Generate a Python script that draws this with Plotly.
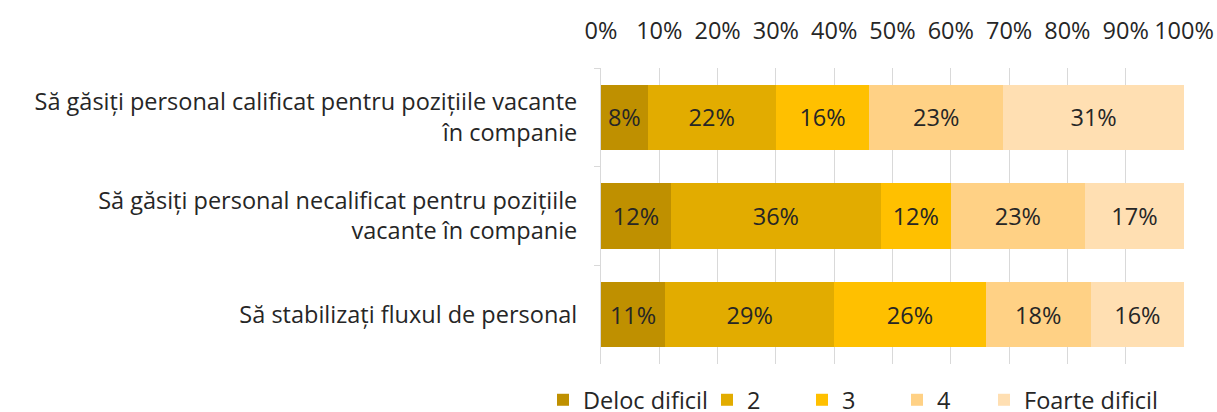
import plotly.graph_objects as go

categories = [
    "Să găsiți personal calificat pentru pozițiile vacante<br>în companie",
    "Să găsiți personal necalificat pentru pozițiile<br>vacante în companie",
    "Să stabilizați fluxul de personal",
]
series_names = ["Deloc dificil", "2", "3", "4", "Foarte dificil"]
values = {
    "Deloc dificil": [8, 12, 11],
    "2": [22, 36, 29],
    "3": [16, 12, 26],
    "4": [23, 23, 18],
    "Foarte dificil": [31, 17, 16],
}
colors = ["#BF9000", "#E2AC00", "#FFC000", "#FFD185", "#FFDFB2"]
x_ticks = [0, 10, 20, 30, 40, 50, 60, 70, 80, 90, 100]

FONT = "Open Sans"
FS = 23.5
PL, PR, PT, PB = 601, 1184, 68, 364
W, H = 1217, 412
legend_marker_px = [564, 728, 823, 918, 1005]

fig = go.Figure()
layout_legends = {}
for i, (name, col) in enumerate(zip(series_names, colors)):
    vals = values[name]
    lname = "legend" if i == 0 else f"legend{i+1}"
    fig.add_trace(go.Bar(
        y=categories, x=vals, name=name, orientation="h",
        marker=dict(color=col, line=dict(width=0)),
        text=[f"{v}%" for v in vals], textposition="inside",
        insidetextanchor="middle", textangle=0, constraintext="none",
        textfont=dict(family=FONT, size=FS, color="#262626"),
        hoverinfo="skip", legend=lname,
    ))
    layout_legends[lname] = dict(
        x=(legend_marker_px[i] - 21 - PL) / (PR - PL), xanchor="left",
        y=-(400 - PB) / (PB - PT), yanchor="middle",
        orientation="h", bgcolor="rgba(0,0,0,0)",
        font=dict(family=FONT, size=FS, color="#262626"),
        itemwidth=30,
    )

fig.update_layout(
    barmode="stack", bargap=0.34,
    width=W, height=H,
    margin=dict(l=PL, r=W - PR, t=PT, b=H - PB, autoexpand=False),
    paper_bgcolor="white", plot_bgcolor="white",
    font=dict(family=FONT, size=FS, color="#262626"),
    showlegend=True,
    xaxis=dict(side="top", range=[0, 100], tickvals=x_ticks,
               ticktext=[f"{t}%" for t in x_ticks], automargin=False,
               showgrid=True, gridcolor="#D9D9D9", gridwidth=1,
               zeroline=False, showline=False, ticks="", ticklabelstandoff=23,
               tickfont=dict(family=FONT, size=FS, color="#262626")),
    yaxis=dict(autorange="reversed", showline=True, linecolor="#D9D9D9", linewidth=1,
               ticks="outside", ticklen=6, tickcolor="#D9D9D9", tickson="boundaries",
               ticklabelstandoff=18, automargin=False,
               tickfont=dict(family=FONT, size=FS, color="#262626")),
    **layout_legends,
)

fig.write_html("out.html", config={"displayModeBar": False},
               post_script="document.body.style.margin='0';")
